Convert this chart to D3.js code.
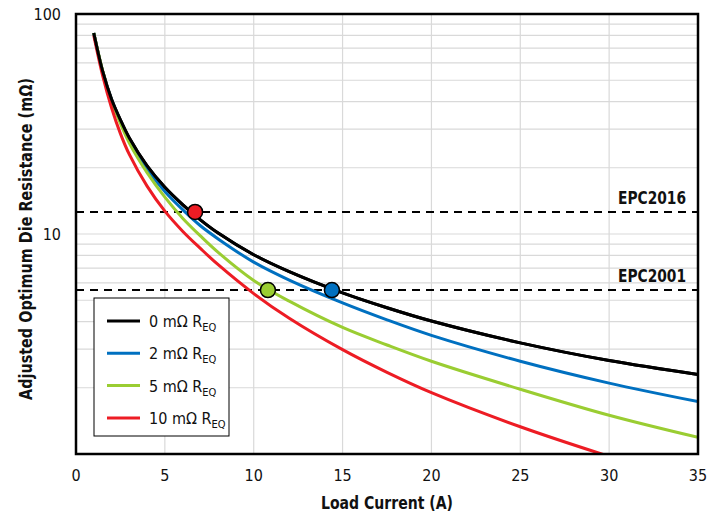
<!DOCTYPE html>
<html lang="en">
<head>
<meta charset="UTF-8">
<title>Adjusted Optimum Die Resistance</title>
<style>
  body { margin: 0; background: #ffffff; }
  svg { display: block; font-family: "Liberation Sans Narrow", "DejaVu Sans Condensed", "Roboto", sans-serif; }
  .tick { font-size: 16px; fill: #111; }
  .title { font-size: 18px; font-weight: bold; fill: #111; }
</style>
<script src="https://d3js.org/d3.v7.min.js"></script>
</head>
<body>
<svg id="svg"></svg>
<script>
// series: [load current A, resistance mΩ]
const req0 = [[1, 82], [1.5, 55], [2, 41], [2.5, 33], [3, 27.3], [4, 20.4], [5, 16.3], [6, 13.6], [7, 11.6],
  [8, 10.1], [10, 8.05], [12, 6.74], [15, 5.4], [17.5, 4.62], [20, 4.02], [25, 3.2], [30, 2.66], [35, 2.3]];
const req2 = [[1, 82], [1.5, 54.6], [2, 40.6], [2.5, 32.5], [3, 26.6], [4, 19.7], [5, 15.6], [6, 12.9], [7, 10.9],
  [8, 9.5], [10, 7.45], [12, 6.17], [15, 4.86], [17.5, 4.07], [20, 3.46], [25, 2.64], [30, 2.1], [35, 1.73]];
const req5 = [[1, 82], [1.5, 55.2], [2, 40.2], [2.5, 31.8], [3, 25.9], [4, 19], [5, 14.7], [6, 11.8], [7, 9.8],
  [8, 8.25], [10, 6.15], [12, 4.95], [15, 3.76], [17.5, 3.13], [20, 2.64], [25, 1.97], [30, 1.5], [35, 1.19]];
const req10 = [[1, 80], [1.5, 52.5], [2, 37.5], [2.5, 28.6], [3, 23], [4, 16.5], [5, 12.7], [6, 10.3], [7, 8.6],
  [8, 7.25], [10, 5.36], [12, 4.14], [15, 2.98], [17.5, 2.35], [20, 1.9], [25, 1.33], [30, 0.975]];

const seriesNames = ["0 mΩ R", "2 mΩ R", "5 mΩ R", "10 mΩ R"];
const seriesColors = ["#000000", "#0070c0", "#9acd32", "#ed1c24"];
const seriesData = [req0, req2, req5, req10];

// reference parts (horizontal dashed lines) and markers
const parts = [{ name: "EPC2016", r: 12.6 }, { name: "EPC2001", r: 5.56 }];
const markers = [[6.7, 12.6, "#ed1c24"], [10.8, 5.56, "#9acd32"], [14.4, 5.56, "#0070c0"]];

const xTicks = [0, 5, 10, 15, 20, 25, 30, 35];
const yTicks = [10, 100];

const width = 718, height = 516;
const m = { left: 76, right: 698, top: 14, bottom: 454 };

const svg = d3.select('#svg').attr('width', width).attr('height', height);

const x = d3.scaleLinear().domain([0, 35]).range([m.left, m.right]);
const y = d3.scaleLog().domain([1, 100]).range([m.bottom, m.top]);

// grid
const minor = [];
[1, 10].forEach(d => { for (let k = 2; k <= 9; k++) minor.push(d * k); });
minor.push(10);
svg.append('g').selectAll('line').data(minor).enter().append('line')
  .attr('x1', m.left).attr('x2', m.right)
  .attr('y1', d => y(d)).attr('y2', d => y(d))
  .attr('stroke', '#d9d9d9').attr('stroke-width', 1.2);
svg.append('g').selectAll('line').data(xTicks.slice(1, -1)).enter().append('line')
  .attr('x1', d => x(d)).attr('x2', d => x(d))
  .attr('y1', m.top).attr('y2', m.bottom)
  .attr('stroke', '#d9d9d9').attr('stroke-width', 1.2);

svg.append('defs').append('clipPath').attr('id', 'clip')
  .append('rect').attr('x', m.left).attr('y', m.top)
  .attr('width', m.right - m.left).attr('height', m.bottom - m.top);

// dashed part lines
svg.append('g').selectAll('line').data(parts).enter().append('line')
  .attr('x1', m.left).attr('x2', m.right)
  .attr('y1', d => y(d.r)).attr('y2', d => y(d.r))
  .attr('stroke', '#000').attr('stroke-width', 2).attr('stroke-dasharray', '8,6');
svg.append('g').selectAll('text').data(parts).enter().append('text')
  .attr('class', 'title')
  .attr('x', m.right - 12).attr('y', d => y(d.r) - 8)
  .attr('text-anchor', 'end')
  .attr('textLength', 68).attr('lengthAdjust', 'spacingAndGlyphs')
  .text(d => d.name);

// curves
const line = d3.line()
  .x(d => x(d[0])).y(d => y(d[1]))
  .curve(d3.curveCatmullRom.alpha(0.5));
svg.append('g').attr('clip-path', 'url(#clip)')
  .selectAll('path').data(seriesData).enter().append('path')
  .attr('d', d => line(d))
  .attr('fill', 'none')
  .attr('stroke', (d, i) => seriesColors[i])
  .attr('stroke-width', 3);
// black on top
svg.append('path').attr('d', line(req0)).attr('fill', 'none')
  .attr('stroke', '#000').attr('stroke-width', 3);

// markers
svg.append('g').selectAll('circle').data(markers).enter().append('circle')
  .attr('cx', d => x(d[0])).attr('cy', d => y(d[1])).attr('r', 7.5)
  .attr('fill', d => d[2]).attr('stroke', '#000').attr('stroke-width', 1.5);

// frame
svg.append('rect').attr('x', m.left).attr('y', m.top)
  .attr('width', m.right - m.left).attr('height', m.bottom - m.top)
  .attr('fill', 'none').attr('stroke', '#000').attr('stroke-width', 2.5);

// axes labels
svg.append('g').selectAll('text').data(xTicks).enter().append('text')
  .attr('class', 'tick')
  .attr('x', d => x(d)).attr('y', m.bottom + 27)
  .attr('text-anchor', 'middle')
  .text(d => d);
svg.append('g').selectAll('text').data(yTicks).enter().append('text')
  .attr('class', 'tick')
  .attr('x', m.left - 15).attr('y', d => y(d) + 6)
  .attr('text-anchor', 'end')
  .text(d => d);

svg.append('text').attr('class', 'title')
  .attr('x', 387).attr('y', 509)
  .attr('text-anchor', 'middle')
  .attr('textLength', 132).attr('lengthAdjust', 'spacingAndGlyphs')
  .text('Load Current (A)');
svg.append('text').attr('class', 'title')
  .attr('transform', 'translate(32,239) rotate(-90)')
  .attr('text-anchor', 'middle')
  .attr('textLength', 322).attr('lengthAdjust', 'spacingAndGlyphs')
  .text('Adjusted Optimum Die Resistance (mΩ)');

// legend
const lg = svg.append('g');
lg.append('rect').attr('x', 94).attr('y', 298).attr('width', 135).attr('height', 138)
  .attr('fill', '#fff').attr('stroke', '#000').attr('stroke-width', 1);
const rows = lg.selectAll('g').data(seriesNames).enter().append('g')
  .attr('transform', (d, i) => 'translate(0,' + (321 + i * 32.3) + ')');
rows.append('line').attr('x1', 107).attr('x2', 140).attr('y1', 0).attr('y2', 0)
  .attr('stroke', (d, i) => seriesColors[i]).attr('stroke-width', 3);
const lt = rows.append('text').attr('class', 'tick').attr('x', 149).attr('y', 6);
lt.append('tspan').text(d => d);
lt.append('tspan').attr('dy', 4).attr('font-size', 11).text('EQ');
</script>
</body>
</html>
